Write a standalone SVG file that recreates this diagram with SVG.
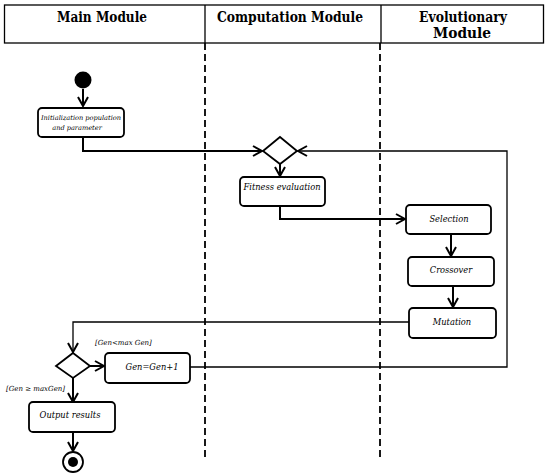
<svg xmlns="http://www.w3.org/2000/svg" width="550" height="474" viewBox="0 0 550 474">
<style>
.hd{font-family:'DejaVu Serif',serif;font-weight:bold;font-size:14px;text-anchor:middle;fill:#000}
.t{font-family:'DejaVu Serif',serif;font-style:italic;font-size:8.3px;text-anchor:middle;fill:#000}
.lb{font-family:'DejaVu Serif',serif;font-style:italic;font-size:7px;fill:#000}
.box{fill:#fff;stroke:#000;stroke-width:1.8}
.c{fill:none;stroke:#000;stroke-width:2}
.cf{fill:none;stroke:#000;stroke-width:1.3}
.dash{stroke:#000;stroke-width:1.8;stroke-dasharray:7,4}
</style>
<defs>
<marker id="ar" markerWidth="12" markerHeight="12" refX="10" refY="6" orient="auto" markerUnits="userSpaceOnUse">
<path d="M1,1 L10,6 L1,11" fill="none" stroke="#000" stroke-width="2"/>
</marker>
</defs>
<rect width="550" height="474" fill="#fff"/>
<g id="header">
<rect x="4.5" y="5" width="539" height="38" fill="none" stroke="#000" stroke-width="1.3"/>
<line x1="205" y1="5" x2="205" y2="43" stroke="#000" stroke-width="1.3"/>
<line x1="381" y1="5" x2="381" y2="43" stroke="#000" stroke-width="1.3"/>
<text class="hd" x="102" y="22" textLength="90" lengthAdjust="spacingAndGlyphs">Main Module</text>
<text class="hd" x="290" y="22" textLength="146" lengthAdjust="spacingAndGlyphs">Computation Module</text>
<text class="hd" x="463" y="22" textLength="88" lengthAdjust="spacingAndGlyphs">Evolutionary</text>
<text class="hd" x="462" y="38" textLength="58" lengthAdjust="spacingAndGlyphs">Module</text>
</g>
<g id="swimlanes">
<line class="dash" x1="205" y1="43" x2="205" y2="457"/>
<line class="dash" x1="380" y1="43" x2="380" y2="457"/>
</g>
<g id="connectors">
<line class="c" x1="83" y1="89" x2="83" y2="106" marker-end="url(#ar)"/>
<polyline class="c" points="83,137 83,151 262,151" marker-end="url(#ar)"/>
<polyline class="cf" points="190,367 507,367 507,151 298,151" marker-end="url(#ar)"/>
<line class="c" x1="280" y1="163" x2="280" y2="176" marker-end="url(#ar)"/>
<polyline class="c" points="280,206 280,219 405,219" marker-end="url(#ar)"/>
<line class="c" x1="451" y1="234" x2="451" y2="256" marker-end="url(#ar)"/>
<line class="c" x1="453" y1="286" x2="453" y2="307" marker-end="url(#ar)"/>
<polyline class="cf" points="409,322 73,322 73,352" marker-end="url(#ar)"/>
<line class="c" x1="90" y1="366" x2="104" y2="366" marker-end="url(#ar)"/>
<line class="c" x1="73" y1="378" x2="73" y2="402" marker-end="url(#ar)"/>
<line class="c" x1="73" y1="432" x2="73" y2="451" marker-end="url(#ar)"/>
</g>
<g id="start"><circle cx="83" cy="80" r="8.5" fill="#000"/></g>
<g id="init">
<rect class="box" x="38" y="108" width="86" height="29" rx="4"/>
<text class="t" x="81" y="120" style="font-size:6.6px">Initialization population</text>
<text class="t" x="77" y="130" style="font-size:6.6px">and  parameter</text>
</g>
<g id="merge"><polygon points="280,137 297,151 280,164 263,151" fill="#fff" stroke="#000" stroke-width="1.8"/></g>
<g id="fitness">
<rect class="box" x="240" y="177" width="85" height="29" rx="4"/>
<text class="t" x="282" y="190">Fitness evaluation</text>
</g>
<g id="selection">
<rect class="box" x="406" y="205" width="85" height="29" rx="4"/>
<text class="t" x="449" y="222">Selection</text>
</g>
<g id="crossover">
<rect class="box" x="408" y="257" width="86" height="29" rx="4"/>
<text class="t" x="451" y="273">Crossover</text>
</g>
<g id="mutation">
<rect class="box" x="409" y="308" width="87" height="30" rx="4"/>
<text class="t" x="452" y="325">Mutation</text>
</g>
<g id="decision">
<polygon points="73,353 90,366 73,378 56,366" fill="#fff" stroke="#000" stroke-width="1.8"/>
<text class="lb" x="95" y="345">[Gen&lt;max Gen]</text>
<text class="lb" x="6" y="391">[Gen ≥ maxGen]</text>
</g>
<g id="increment">
<rect class="box" x="105" y="353" width="85" height="30" rx="4"/>
<text class="t" x="152" y="370">Gen=Gen+1</text>
</g>
<g id="output">
<rect class="box" x="29" y="402" width="86" height="30" rx="4"/>
<text class="t" x="70" y="418">Output results</text>
</g>
<g id="end">
<circle cx="73" cy="462" r="10" fill="#fff" stroke="#000" stroke-width="1.8"/>
<circle cx="73" cy="462" r="5" fill="#000"/>
</g>
</svg>
